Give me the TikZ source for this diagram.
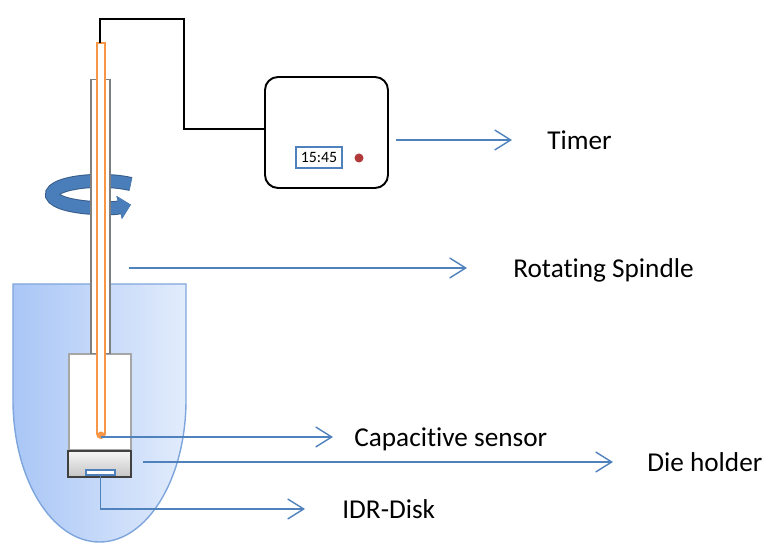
\documentclass[tikz,border=0pt]{standalone}
\usepackage{fontspec}
\setmainfont[Ligatures=NoCommon]{Carlito}
\usetikzlibrary{arrows.meta, calc, positioning}
\definecolor{lineblue}{HTML}{4F81BD}
\definecolor{spinblue}{HTML}{4A7EBB}
\definecolor{spinedge}{HTML}{385D8A}
\definecolor{tubeorange}{HTML}{F79646}
\definecolor{tubegray}{HTML}{7F7F7F}
\definecolor{bathleft}{HTML}{A9C6F6}
\definecolor{bathright}{HTML}{E2ECFC}
\definecolor{bathedge}{HTML}{7FA6DC}
\definecolor{ledred}{HTML}{B23A3A}

\begin{document}
\begin{tikzpicture}[
    >={Straight Barb[length=3.2mm, width=4mm]},
    every node/.style={text=black},
  ]

  \useasboundingbox (0,0) rectangle (15.36,10.86);

  % --- Styles ---
  \tikzset{
    callout/.style={->, lineblue, line width=0.8pt},
    tag/.style={font=\fontsize{15.5}{18}\selectfont, anchor=west,
                inner sep=0pt, text height=0.38cm, text depth=0pt},
  }

  % --- Dissolution vessel ---
  \path[draw=bathedge, line width=0.8pt, left color=bathleft, right color=bathright]
    (0.26,5.18) -- (0.26,2.86)
    arc[start angle=180, end angle=360, x radius=1.73, y radius=2.84]
    -- (3.72,5.18) -- cycle;

  % --- Sensor housing, die holder and disk ---
  \node[draw=gray!70, fill=white, line width=1pt, inner sep=0pt,
        minimum width=1.24cm, minimum height=1.92cm] (holder) at (2.00,2.82) {};
  \node[draw=black!75, top color=gray!8, bottom color=gray!45, line width=1pt,
        inner sep=0pt, minimum width=1.26cm, minimum height=0.52cm] (die) at (1.99,1.58) {};
  \node[draw=lineblue, fill=white, line width=1pt, inner sep=0pt,
        minimum width=0.58cm, minimum height=0.1cm] (disk) at (2.01,1.41) {};

  % --- Rotation arrow ---
  \draw[spinblue, line width=0.24cm, -{Triangle[length=0.24cm, width=0.46cm]},
        preaction={draw=spinedge, line width=0.28cm}]
    (2.617,7.179) arc[start angle=50, end angle=310, x radius=0.96, y radius=0.27];

  % --- Spindle: sleeve and probe ---
  \node[draw=tubegray, fill=white, line width=0.8pt, inner sep=0pt, anchor=south,
        minimum width=0.38cm, minimum height=5.48cm] (sleeve) at (2.01,3.78) {};
  \draw[tubeorange, fill=white, line width=1pt]
    (1.94,10.00) -- (1.94,2.18) arc[start angle=180, end angle=360, radius=0.08]
    -- (2.10,10.00) -- cycle;
  \fill[tubeorange] (2.02,2.16) circle (0.07);
  \coordinate (probe-top) at (2.00,10.00);
  \coordinate (probe-tip) at (2.02,2.12);

  % --- Timer unit ---
  \node[draw=black, line width=1.1pt, rounded corners=0.26cm, fill=white,
        minimum width=2.46cm, minimum height=2.22cm] (timer) at (6.53,8.21) {};
  \node[draw=lineblue, line width=1pt, font=\fontsize{9}{10}\selectfont,
        inner sep=1pt, minimum width=0.92cm, minimum height=0.42cm] (clock) at (6.38,7.71) {15:45};
  \node[circle, fill=ledred, inner sep=0pt, minimum size=0.18cm] (led) at (7.18,7.70) {};

  % wire from probe to timer
  \draw[black, line width=1.1pt] (probe-top) |- (3.68,10.48) |- ([yshift=0.07cm]timer.west);

  % --- Labels ---
  \node[tag] (lbl-timer)   at (10.94,8.06) {Timer};
  \node[tag] (lbl-spindle) at (10.26,5.50) {Rotating Spindle};
  \node[tag] (lbl-sensor)  at (7.08,2.12)  {Capacitive sensor};
  \node[tag] (lbl-die)     at (12.94,1.62) {Die holder};
  \node[tag] (lbl-disk)    at (6.84,0.68)  {IDR-Disk};

  % --- Callout arrows ---
  \draw[callout] ([xshift=0.14cm]timer.east |- lbl-timer.west) -- ([xshift=-0.70cm]lbl-timer.west);
  \draw[callout] ([xshift=0.36cm]sleeve.east |- lbl-spindle.west) -- ([xshift=-0.92cm]lbl-spindle.west);
  \draw[callout] (probe-tip) -- ([xshift=-0.42cm]lbl-sensor.west);
  \draw[callout] ([xshift=0.22cm]die.east |- lbl-die.west) -- ([xshift=-0.68cm]lbl-die.west);
  \draw[callout] (disk.south) |- ([xshift=-0.74cm]lbl-disk.west);

\end{tikzpicture}
\end{document}
